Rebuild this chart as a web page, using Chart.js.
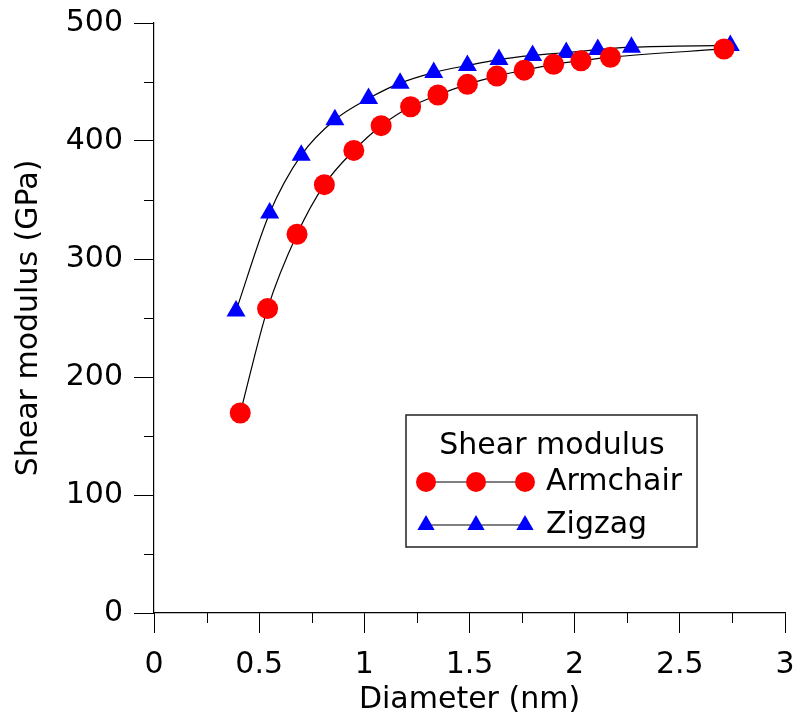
<!DOCTYPE html>
<html>
<head>
<meta charset="utf-8">
<script src="https://cdn.jsdelivr.net/npm/chart.js@4.4.1/dist/chart.umd.min.js"></script>
<style>
  html, body { margin: 0; padding: 0; background: #fff; }
  #wrap { width: 796px; height: 715px; }
</style>
</head>
<body>
<div id="wrap"><canvas id="chart" width="796" height="715"></canvas></div>
<script>
// Armchair tubes: diameter (nm) and shear modulus (GPa)
const armchairDiameter = [0.41, 0.54, 0.68, 0.81, 0.95, 1.08, 1.22, 1.35, 1.49, 1.63, 1.76, 1.90, 2.03, 2.17, 2.71];
const armchairModulus  = [169.5, 258, 321, 363, 392, 413, 429, 439, 448, 455, 460, 465, 468, 471, 478];

// Zigzag tubes
const zigzagDiameter = [0.39, 0.55, 0.70, 0.86, 1.02, 1.17, 1.33, 1.49, 1.64, 1.80, 1.96, 2.11, 2.27, 2.74];
const zigzagModulus  = [256, 339, 388, 418, 436, 449, 458, 464, 469, 472.5, 475, 477.5, 479.5, 481];

const xTicks = [0, 0.5, 1, 1.5, 2, 2.5, 3];
const yTicks = [0, 100, 200, 300, 400, 500];
const xMinorTicks = [0.25, 0.75, 1.25, 1.75, 2.25, 2.75];
const yMinorTicks = [50, 150, 250, 350, 450];

const FONT = '"DejaVu Sans", sans-serif';

function toPoints(xs, ys) {
    return xs.map((x, i) => ({ x: x, y: ys[i] }));
}

// minor ticks (Chart.js only has one tick length per axis)
const minorTicks = {
    id: 'minorTicks',
    afterDraw(chart) {
        const ctx = chart.ctx;
        const xs = chart.scales.x, ys = chart.scales.y;
        const area = chart.chartArea;
        ctx.save();
        ctx.strokeStyle = '#000';
        ctx.lineWidth = 1;
        ctx.beginPath();
        xMinorTicks.forEach(v => {
            const px = Math.round(xs.getPixelForValue(v)) + 0.5;
            ctx.moveTo(px, area.bottom);
            ctx.lineTo(px, area.bottom + 10);
        });
        yMinorTicks.forEach(v => {
            const py = Math.round(ys.getPixelForValue(v)) + 0.5;
            ctx.moveTo(area.left, py);
            ctx.lineTo(area.left - 10, py);
        });
        ctx.stroke();
        ctx.restore();
    }
};

// boxed legend with three markers per row, like the original
const boxLegend = {
    id: 'boxLegend',
    afterDraw(chart) {
        const ctx = chart.ctx;
        const drawPoint = Chart.helpers.drawPoint;
        const box = { left: 406, top: 415, right: 697, bottom: 547 };
        const markX = [426, 476, 525];
        ctx.save();
        ctx.strokeStyle = '#222';
        ctx.lineWidth = 1.5;
        ctx.strokeRect(box.left, box.top, box.right - box.left, box.bottom - box.top);

        ctx.fillStyle = '#000';
        ctx.font = '30px ' + FONT;
        ctx.textAlign = 'center';
        ctx.textBaseline = 'middle';
        ctx.fillText('Shear modulus', 552, 446);

        const rows = [
            { y: 482, label: 'Armchair', style: 'circle', color: '#ff0000', r: 10 },
            { y: 525, label: 'Zigzag', style: 'triangle', color: '#0000ff', r: 10 }
        ];
        rows.forEach(row => {
            ctx.strokeStyle = '#000';
            ctx.lineWidth = 1;
            ctx.beginPath();
            ctx.moveTo(markX[0], row.y);
            ctx.lineTo(markX[2], row.y);
            ctx.stroke();
            markX.forEach(mx => {
                ctx.fillStyle = row.color;
                ctx.strokeStyle = row.color;
                drawPoint(ctx, { pointStyle: row.style, radius: row.r, borderWidth: 0, rotation: 0 }, mx, row.y);
            });
            ctx.fillStyle = '#000';
            ctx.textAlign = 'left';
            ctx.fillText(row.label, 546, row.y);
        });
        ctx.restore();
    }
};

new Chart(document.getElementById('chart'), {
    type: 'scatter',
    data: {
        datasets: [{
            label: 'Armchair',
            data: toPoints(armchairDiameter, armchairModulus),
            showLine: true,
            borderColor: '#000',
            borderWidth: 1.2,
            cubicInterpolationMode: 'monotone',
            pointStyle: 'circle',
            pointRadius: 10.5,
            pointBackgroundColor: '#ff0000',
            pointBorderColor: '#ff0000',
            pointBorderWidth: 0,
            clip: false
        }, {
            label: 'Zigzag',
            data: toPoints(zigzagDiameter, zigzagModulus),
            showLine: true,
            borderColor: '#000',
            borderWidth: 1.2,
            cubicInterpolationMode: 'monotone',
            pointStyle: 'triangle',
            pointRadius: 11,
            pointBackgroundColor: '#0000ff',
            pointBorderColor: '#0000ff',
            pointBorderWidth: 0,
            clip: false
        }]
    },
    options: {
        responsive: false,
        animation: false,
        devicePixelRatio: 1,
        layout: { padding: { top: 23, right: 10, left: 0, bottom: 0 } },
        plugins: {
            legend: { display: false },
            tooltip: { enabled: false }
        },
        scales: {
            x: {
                type: 'linear',
                min: 0,
                max: 3,
                afterBuildTicks: s => { s.ticks = xTicks.map(v => ({ value: v })); },
                afterFit: s => { s.height = 102; s.paddingLeft = 0; s.paddingRight = 0; },
                grid: { drawOnChartArea: false, tickLength: 20, color: '#000', tickColor: '#000' },
                border: { display: true, color: '#000', width: 1.2 },
                ticks: { color: '#000', font: { family: FONT, size: 30 }, padding: 14, maxRotation: 0, callback: v => String(v) },
                title: { display: true, text: 'Diameter (nm)', color: '#000', font: { family: FONT, size: 30, lineHeight: 1.0 }, padding: { top: 0, bottom: 0 } }
            },
            y: {
                type: 'linear',
                min: 0,
                max: 500,
                afterBuildTicks: s => { s.ticks = yTicks.map(v => ({ value: v })); },
                afterFit: s => { s.width = 154; s.paddingTop = 0; s.paddingBottom = 0; },
                grid: { drawOnChartArea: false, tickLength: 20, color: '#000', tickColor: '#000' },
                border: { display: true, color: '#000', width: 1.2 },
                ticks: { color: '#000', font: { family: FONT, size: 30 }, padding: 11, callback: v => String(v) },
                title: { display: true, text: 'Shear modulus (GPa)', color: '#000', font: { family: FONT, size: 30 }, padding: { top: 11, bottom: 0 } }
            }
        }
    },
    plugins: [minorTicks, boxLegend]
});
</script>
</body>
</html>
